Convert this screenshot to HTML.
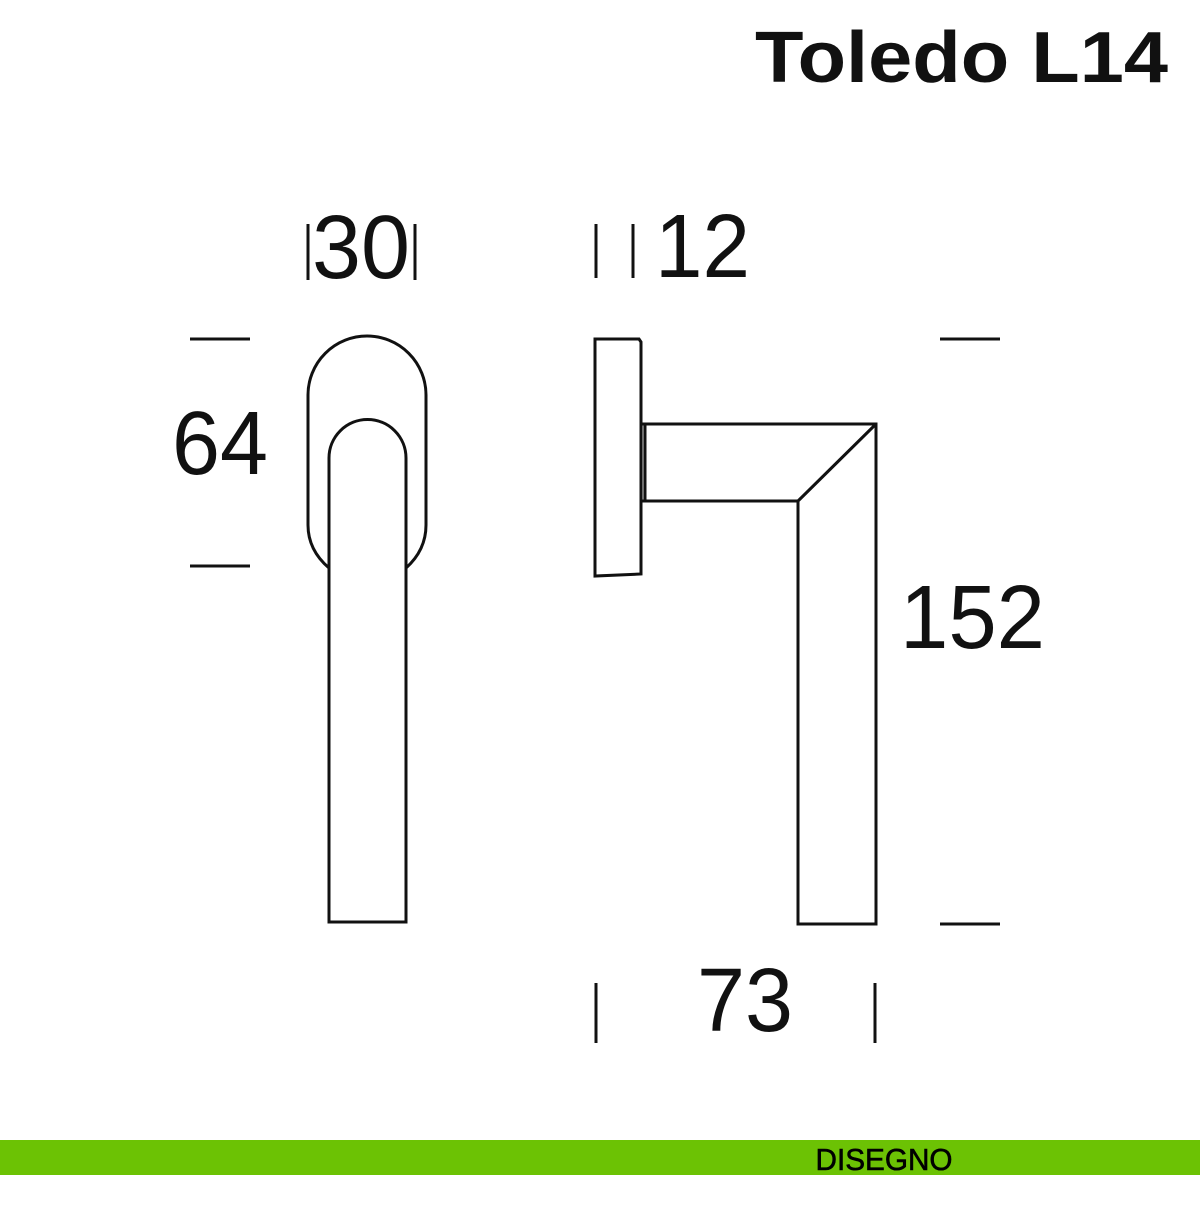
<!DOCTYPE html>
<html><head><meta charset="utf-8"><style>html,body{margin:0;padding:0;background:#fff}</style></head>
<body>
<svg width="1200" height="1200" viewBox="0 0 1200 1200" xmlns="http://www.w3.org/2000/svg">
<rect width="1200" height="1200" fill="#fff"/>
<g font-family="Liberation Sans, sans-serif" fill="#111">
<text x="755" y="82" font-size="72" font-weight="bold" textLength="413" lengthAdjust="spacingAndGlyphs">Toledo L14</text>
<text x="312" y="278" font-size="90" textLength="98" lengthAdjust="spacingAndGlyphs">30</text>
<text x="655" y="277" font-size="90" textLength="95" lengthAdjust="spacingAndGlyphs">12</text>
<text x="172" y="474" font-size="90" textLength="96" lengthAdjust="spacingAndGlyphs">64</text>
<text x="900" y="648" font-size="90" textLength="145" lengthAdjust="spacingAndGlyphs">152</text>
<text x="697" y="1031" font-size="90" textLength="96" lengthAdjust="spacingAndGlyphs">73</text>
</g>
<g stroke="#111" stroke-width="3" fill="none">
<line x1="308" y1="224" x2="308" y2="280"/><line x1="415" y1="224" x2="415" y2="280"/>
<line x1="596" y1="224" x2="596" y2="278"/><line x1="633" y1="224" x2="633" y2="278"/>
<line x1="190" y1="339" x2="250" y2="339"/><line x1="190" y1="566" x2="250" y2="566"/>
<line x1="940" y1="339" x2="1000" y2="339"/><line x1="940" y1="924" x2="1000" y2="924"/>
<line x1="596" y1="983" x2="596" y2="1043"/><line x1="875" y1="983" x2="875" y2="1043"/>
<path d="M329 568 Q308 550 308 525 L308 395 A59 59 0 0 1 426 395 L426 525 Q426 550 406 568"/>
<path d="M329 922 L329 458 A38.5 38.5 0 0 1 406 458 L406 922 Z"/>
<path d="M595 339 L639 339 L641 342 L641 574 L595 576 Z"/>
<rect x="641" y="424" width="4" height="77" fill="#ccc"/>
<path d="M645 424 L876 424 L876 924 L798 924 L798 501 L645 501"/>
<line x1="798" y1="501" x2="876" y2="424"/>
</g>
<rect x="0" y="1140" width="1200" height="35" fill="#6cc204"/>
<text x="884" y="1170" font-family="Liberation Sans, sans-serif" font-size="31" fill="#000" stroke="#000" stroke-width="0.6" text-anchor="middle" textLength="137" lengthAdjust="spacingAndGlyphs">DISEGNO</text>
</svg>
</body></html>
